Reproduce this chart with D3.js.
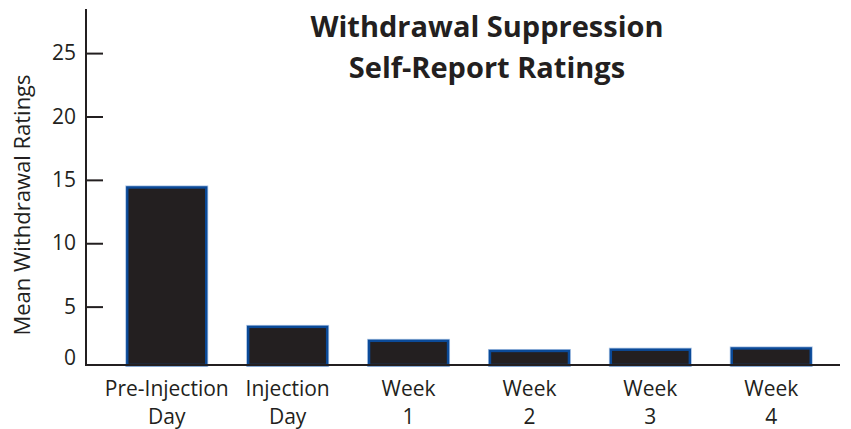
<!DOCTYPE html>
<html>
<head>
<meta charset="utf-8">
<script src="https://cdn.jsdelivr.net/npm/d3@7"></script>
<style>
  html, body { margin: 0; padding: 0; background: #fff; }
  svg { display: block; }
  text { font-family: "Open Sans", "Noto Sans", sans-serif; fill: #231f20; }
</style>
</head>
<body>
<svg id="chart" width="851" height="429"></svg>
<script>
// ---- data ----
const categories = ["Pre-Injection\nDay", "Injection\nDay", "Week\n1", "Week\n2", "Week\n3", "Week\n4"];
const values = [14.4, 3.4, 2.3, 1.5, 1.6, 1.7];
const yTicks = [5, 10, 15, 20, 25];
const zeroLabel = "0";
const titleLines = ["Withdrawal Suppression", "Self-Report Ratings"];
const yTitle = "Mean Withdrawal Ratings";

// ---- layout ----
const W = 851, H = 429;
const margin = { left: 86, right: 11, top: 10 };
const yBottom = 370;        // pixel of value 0
const baselineY = 365;      // drawn baseline
const ink = "#231f20";
const labelSize = 21;

const svg = d3.select("#chart");

const x = d3.scaleBand()
  .domain(categories)
  .range([106, 832])
  .paddingInner(0.347)
  .paddingOuter(0.176);

const y = d3.scaleLinear()
  .domain([0, 28.4])
  .range([yBottom, margin.top]);

// bars: halo + blue stroke
const bars = svg.append("g");
bars.selectAll("rect.halo")
  .data(values)
  .join("rect")
  .attr("class", "halo")
  .attr("x", (d, i) => x(categories[i]))
  .attr("y", d => y(d))
  .attr("width", x.bandwidth())
  .attr("height", d => baselineY - y(d))
  .attr("fill", "none")
  .attr("stroke", "#a8c2e4")
  .attr("stroke-width", 4);
bars.selectAll("rect.bar")
  .data(values)
  .join("rect")
  .attr("class", "bar")
  .attr("x", (d, i) => x(categories[i]))
  .attr("y", d => y(d))
  .attr("width", x.bandwidth())
  .attr("height", d => baselineY - y(d))
  .attr("fill", ink)
  .attr("stroke", "#0b4a98")
  .attr("stroke-width", 2.4);

// y axis
const yAxis = d3.axisRight(y).tickValues(yTicks).tickSize(17).tickFormat(d3.format("d"));
const gy = svg.append("g").attr("transform", `translate(${margin.left},0)`).call(yAxis);
gy.select(".domain").remove();
gy.selectAll(".tick line").attr("stroke", ink).attr("stroke-width", 2);
gy.selectAll(".tick text")
  .attr("x", -10)
  .attr("text-anchor", "end")
  .attr("font-size", labelSize)
  .attr("fill", ink);
gy.append("line")
  .attr("x1", 0).attr("x2", 0)
  .attr("y1", y.range()[1] - 1).attr("y2", baselineY + 1)
  .attr("stroke", ink).attr("stroke-width", 2);
gy.append("text")
  .attr("x", -10).attr("y", baselineY - 7).attr("dy", "0.32em")
  .attr("text-anchor", "end").attr("font-size", labelSize)
  .text(zeroLabel);

// baseline
svg.append("line")
  .attr("x1", margin.left - 1).attr("x2", W - margin.right)
  .attr("y1", baselineY).attr("y2", baselineY)
  .attr("stroke", ink).attr("stroke-width", 2);

// x axis labels
const xAxis = d3.axisBottom(x).tickSize(0).tickFormat("");
const gx = svg.append("g").attr("transform", `translate(0,${baselineY})`).call(xAxis);
gx.select(".domain").remove();
gx.selectAll(".tick").each(function(d) {
  const t = d3.select(this).append("text")
    .attr("text-anchor", "middle")
    .attr("font-size", labelSize)
    .attr("fill", ink);
  d.split("\n").forEach((line, i) => {
    t.append("tspan").attr("x", 0).attr("y", 31 + i * 28).text(line);
  });
});

// y title
svg.append("text")
  .attr("transform", `translate(30,${205}) rotate(-90)`)
  .attr("text-anchor", "middle")
  .attr("font-size", 22)
  .text(yTitle);

// title
const title = svg.append("text")
  .attr("text-anchor", "middle")
  .attr("font-size", 29)
  .attr("font-weight", "bold");
titleLines.forEach((line, i) => {
  title.append("tspan").attr("x", 487).attr("y", 37 + i * 41).text(line);
});
</script>
</body>
</html>
